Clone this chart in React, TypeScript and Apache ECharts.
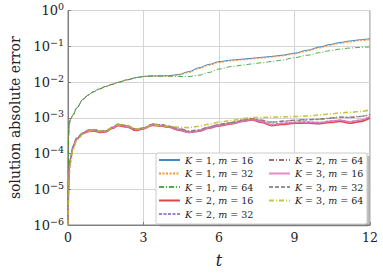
import React, { useEffect, useRef } from "react";
import * as echarts from "echarts";

const tGrid = [0, 0.02, 0.05, 0.1, 0.2, 0.35, 0.6, 0.8, 1.0, 1.25, 1.5, 1.75, 2.0, 2.35, 2.7, 3.0, 3.35, 3.7, 4.0, 4.4, 4.8, 5.2, 5.6, 6.0, 6.5, 7.0, 7.3, 7.7, 8.1, 8.5, 9.0, 9.5, 10.0, 10.4, 10.8, 11.2, 11.6, 12.0];

const k1m16 = [1e-6, 3e-4, 7e-4, 9e-4, 1.2e-3, 1.9e-3, 3.3e-3, 4.3e-3, 5.3e-3, 6.4e-3, 7.5e-3, 8.6e-3, 9.8e-3, 1.15e-2, 1.32e-2, 1.43e-2, 1.48e-2, 1.48e-2, 1.5e-2, 1.62e-2, 1.95e-2, 2.5e-2, 3.1e-2, 3.7e-2, 4.1e-2, 4.4e-2, 4.6e-2, 4.9e-2, 5.2e-2, 5.6e-2, 6.4e-2, 7.7e-2, 9.5e-2, 0.112, 0.127, 0.14, 0.152, 0.163];
const k1m32 = [1e-6, 3e-4, 7e-4, 9e-4, 1.2e-3, 1.9e-3, 3.3e-3, 4.3e-3, 5.3e-3, 6.4e-3, 7.5e-3, 8.6e-3, 9.8e-3, 1.15e-2, 1.32e-2, 1.43e-2, 1.47e-2, 1.47e-2, 1.48e-2, 1.56e-2, 1.85e-2, 2.35e-2, 2.95e-2, 3.5e-2, 3.9e-2, 4.2e-2, 4.4e-2, 4.7e-2, 5.0e-2, 5.4e-2, 6.1e-2, 7.3e-2, 9.0e-2, 0.106, 0.12, 0.132, 0.143, 0.152];
const k1m64 = [1e-6, 3e-4, 7e-4, 9e-4, 1.2e-3, 1.9e-3, 3.3e-3, 4.3e-3, 5.3e-3, 6.4e-3, 7.5e-3, 8.6e-3, 9.8e-3, 1.15e-2, 1.32e-2, 1.43e-2, 1.47e-2, 1.46e-2, 1.45e-2, 1.43e-2, 1.42e-2, 1.55e-2, 1.85e-2, 2.3e-2, 2.7e-2, 3.0e-2, 3.2e-2, 3.45e-2, 3.75e-2, 4.1e-2, 4.8e-2, 5.6e-2, 6.6e-2, 7.5e-2, 8.3e-2, 8.9e-2, 9.3e-2, 9.6e-2];
const k2m16 = [1e-6, 1e-5, 4e-5, 7e-5, 1.5e-4, 2.6e-4, 3.6e-4, 4.1e-4, 4.3e-4, 3.9e-4, 4.0e-4, 5.0e-4, 6.0e-4, 5.5e-4, 4.4e-4, 4.9e-4, 6.1e-4, 5.9e-4, 5.4e-4, 4.5e-4, 3.9e-4, 4.2e-4, 5.1e-4, 5.9e-4, 6.7e-4, 8.0e-4, 8.7e-4, 7.4e-4, 6.0e-4, 6.5e-4, 7.0e-4, 7.1e-4, 6.8e-4, 7.4e-4, 7.9e-4, 7.0e-4, 7.8e-4, 9.8e-4];
const k2m32 = [1e-6, 1e-5, 4e-5, 7.5e-5, 1.6e-4, 2.7e-4, 3.8e-4, 4.4e-4, 4.6e-4, 4.2e-4, 4.2e-4, 5.3e-4, 6.5e-4, 5.9e-4, 4.7e-4, 5.1e-4, 6.5e-4, 6.2e-4, 5.6e-4, 4.6e-4, 3.9e-4, 4.3e-4, 5.3e-4, 6.2e-4, 7.0e-4, 8.4e-4, 9.2e-4, 8.0e-4, 6.6e-4, 7.1e-4, 7.6e-4, 7.7e-4, 7.4e-4, 8.1e-4, 8.6e-4, 7.8e-4, 8.6e-4, 1.05e-3];
const k2m64 = [1e-6, 1e-5, 4e-5, 7.5e-5, 1.6e-4, 2.7e-4, 3.8e-4, 4.5e-4, 4.7e-4, 4.3e-4, 4.3e-4, 5.4e-4, 6.6e-4, 6.0e-4, 4.8e-4, 5.2e-4, 6.6e-4, 6.4e-4, 5.9e-4, 5.0e-4, 4.3e-4, 4.6e-4, 5.6e-4, 6.5e-4, 7.4e-4, 8.8e-4, 9.5e-4, 8.6e-4, 7.6e-4, 8.0e-4, 8.6e-4, 8.9e-4, 9.2e-4, 9.8e-4, 1.05e-3, 1.04e-3, 1.1e-3, 1.25e-3];
const k3m16 = [1e-6, 1e-5, 4e-5, 7e-5, 1.55e-4, 2.65e-4, 3.7e-4, 4.3e-4, 4.5e-4, 4.1e-4, 4.1e-4, 5.2e-4, 6.3e-4, 5.7e-4, 4.6e-4, 5.0e-4, 6.3e-4, 6.1e-4, 5.5e-4, 4.6e-4, 3.9e-4, 4.2e-4, 5.2e-4, 6.1e-4, 6.9e-4, 8.2e-4, 9.0e-4, 7.8e-4, 6.3e-4, 6.9e-4, 7.4e-4, 7.5e-4, 7.3e-4, 8.0e-4, 8.5e-4, 7.7e-4, 8.5e-4, 1.08e-3];
const k3m32 = [1e-6, 1e-5, 4e-5, 7.5e-5, 1.6e-4, 2.7e-4, 3.8e-4, 4.5e-4, 4.7e-4, 4.3e-4, 4.3e-4, 5.4e-4, 6.6e-4, 6.0e-4, 4.8e-4, 5.2e-4, 6.6e-4, 6.4e-4, 5.8e-4, 4.9e-4, 4.2e-4, 4.5e-4, 5.5e-4, 6.4e-4, 7.3e-4, 8.7e-4, 9.4e-4, 8.4e-4, 7.4e-4, 7.9e-4, 8.4e-4, 8.7e-4, 9.0e-4, 9.6e-4, 1.03e-3, 1.01e-3, 1.07e-3, 1.22e-3];
const k3m64 = [1e-6, 6e-6, 2.5e-5, 5.5e-5, 1.3e-4, 2.4e-4, 3.5e-4, 4.2e-4, 4.5e-4, 4.3e-4, 4.3e-4, 5.3e-4, 6.4e-4, 6.0e-4, 4.9e-4, 5.0e-4, 6.2e-4, 6.2e-4, 5.8e-4, 5.4e-4, 5.3e-4, 5.8e-4, 6.6e-4, 7.5e-4, 8.4e-4, 9.6e-4, 1.02e-3, 1.02e-3, 1.04e-3, 1.06e-3, 1.08e-3, 1.12e-3, 1.2e-3, 1.28e-3, 1.36e-3, 1.42e-3, 1.5e-3, 1.65e-3];

const seriesNames = [
  "K = 1, m = 16", "K = 1, m = 32", "K = 1, m = 64",
  "K = 2, m = 16", "K = 2, m = 32", "K = 2, m = 64",
  "K = 3, m = 16", "K = 3, m = 32", "K = 3, m = 64",
];
const seriesValues = [k1m16, k1m32, k1m64, k2m16, k2m32, k2m64, k3m16, k3m32, k3m64];
const seriesColors = ["#1f77b4", "#ff7f0e", "#2ca02c", "#d62728", "#9467bd", "#8c564b", "#e377c2", "#7f7f7f", "#bcbd22"];
const seriesDash: any[] = ["solid", [2, 1.5], [5, 2, 1, 2], "solid", [3, 1.5], [5, 2, 1, 2], "solid", [4, 2], [5, 2, 1, 2]];
const seriesWidth = [1, 1, 1, 1.6, 1.2, 1.2, 1.6, 1.2, 1.6];

const xTicks = [0, 3, 6, 9, 12];

const FONT = "DejaVu Serif";

export default function App() {
  const ref = useRef<HTMLDivElement>(null);
  useEffect(() => {
    if (!ref.current) return;
    const chart = echarts.init(ref.current, null, { renderer: "svg" });
    const legendFormatter = (name: string) => name.replace(/([Km])/g, "{i|$1}");
    const legendText = {
      fontFamily: FONT,
      fontSize: 9.5,
      color: "#222",
      rich: { i: { fontFamily: FONT, fontStyle: "italic", fontSize: 9.5, color: "#222" } },
    };
    const legendCommon = {
      orient: "vertical",
      itemWidth: 21,
      itemHeight: 10,
      itemGap: 3.5,
      padding: 0,
      textStyle: legendText,
      formatter: legendFormatter,
      itemStyle: { opacity: 0, borderWidth: 0 },
      z: 10,
    };
    chart.setOption({
      animation: false,
      backgroundColor: "#fff",
      textStyle: { fontFamily: FONT },
      grid: {
        left: 60,
        right: 13,
        top: 10.5,
        bottom: 43.5,
        show: true,
        borderColor: "#808080",
        borderWidth: 1,
      },
      xAxis: {
        type: "value",
        min: xTicks[0],
        max: xTicks[xTicks.length - 1],
        interval: 3,
        name: "t",
        nameLocation: "middle",
        nameGap: 27,
        nameTextStyle: { fontFamily: FONT, fontStyle: "italic", fontSize: 16, color: "#222" },
        axisLine: { lineStyle: { color: "#808080" } },
        axisTick: { inside: true, length: 3, lineStyle: { color: "#808080" } },
        axisLabel: { fontFamily: FONT, fontSize: 12.5, color: "#222", margin: 6 },
        splitLine: { show: true, lineStyle: { color: "#d4d4d4", width: 1 } },
      },
      yAxis: {
        type: "log",
        logBase: 10,
        min: 1e-6,
        max: 1,
        name: "solution absolute error",
        nameLocation: "middle",
        nameGap: 46,
        nameTextStyle: { fontFamily: FONT, fontSize: 14, color: "#222" },
        axisLine: { show: true, lineStyle: { color: "#808080" } },
        axisTick: { show: true, inside: true, length: 3, lineStyle: { color: "#808080" } },
        minorTick: { show: false },
        axisLabel: {
          margin: 4,
          fontFamily: FONT,
          formatter: (v: number) => {
            const e = Math.round(Math.log10(v));
            return "{b|10}{s|" + (e < 0 ? "\u2212" + -e : String(e)) + "}";
          },
          rich: {
            b: { fontFamily: FONT, fontSize: 13, color: "#222" },
            s: { fontFamily: FONT, fontSize: 9.5, color: "#222", padding: [0, 0, 8, 0] },
          },
        },
        splitLine: { show: true, lineStyle: { color: "#d4d4d4", width: 1 } },
      },
      legend: [
        { ...legendCommon, left: 158, top: 155, data: seriesNames.slice(0, 5) },
        { ...legendCommon, left: 268, top: 155, data: seriesNames.slice(5) },
      ],
      graphic: [
        {
          type: "rect",
          z: 5,
          shape: { x: 158.5, y: 155.5, width: 211, height: 71, r: 2 },
          style: { fill: "rgba(120,120,120,0.5)", stroke: "none" },
        },
        {
          type: "rect",
          z: 6,
          shape: { x: 156, y: 153, width: 211, height: 71, r: 2 },
          style: { fill: "#fff", stroke: "#cccccc", lineWidth: 1 },
        },
      ],
      series: seriesNames.map((name, i) => ({
        type: "line",
        name,
        data: tGrid.map((t, j) => [t, seriesValues[i][j]]),
        symbol: "none",
        smooth: 0.35,
        smoothMonotone: "x",
        z: 2 + i * 0.01,
        color: seriesColors[i],
        lineStyle: { color: seriesColors[i], width: seriesWidth[i], type: seriesDash[i], opacity: 0.85 },
      })),
    } as any);
    return () => chart.dispose();
  }, []);
  return <div ref={ref} style={{ width: 383, height: 273, position: "absolute", left: 0, top: 0 }} />;
}
